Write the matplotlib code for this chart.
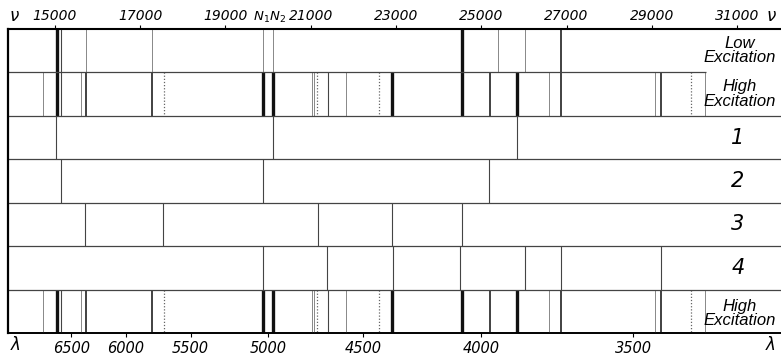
import matplotlib
matplotlib.use("Agg")
import matplotlib.pyplot as plt

# ---- data ----
nu_ticks = [15000, 17000, 19000, 21000, 23000, 25000, 27000, 29000, 31000]
lam_ticks = [6500, 6000, 5500, 5000, 4500, 4000, 3500]

# line positions (wavenumber, cm^-1) and line strength class (0 faint dotted .. 4 strong)
low_nu = [15040, 15140, 15730, 17280, 19880, 20120, 24550, 25400, 26030, 26860]
low_str = [4, 2, 1, 1, 1, 1, 4, 1, 1, 3]

high_nu = [14720, 15050, 15140, 15610, 15730, 17280, 17560, 19880, 20120, 21030,
           21080, 21150, 21400, 21820, 22590, 22910, 24540, 25200, 25850, 26580,
           26860, 29080, 29220, 29930, 30260]
high_str = [1, 4, 2, 1, 3, 3, 0, 4, 4, 1,
            1, 0, 2, 1, 0, 4, 4, 3, 4, 1,
            3, 1, 3, 0, 1]

series1 = [15030, 20120, 25850]
series2 = [15140, 19880, 25190]
series3 = [15710, 17540, 21170, 22910, 24550]
series4 = [19880, 21390, 22930, 24510, 26030, 26860, 29220]
series_labels = ["1", "2", "3", "4"]
nn_label_nu = 20000

# ---- layout ----
W, H = 781, 358
fig = plt.figure(figsize=(W / 100, H / 100), dpi=100)
x0_px, x1_px, ytop_px, ybot_px = 8, 781, 29, 333
ax = fig.add_axes([x0_px / W, 1 - ybot_px / H, (x1_px - x0_px) / W, (ybot_px - ytop_px) / H])

scale = 682 / 16000.0   # px per cm^-1
px15000 = 55
def px_to_nu(px):
    return 15000 + (px - px15000) / scale

ax.set_xlim(px_to_nu(x0_px), px_to_nu(x1_px))
ax.set_ylim(7, 0)

styles = {
    0: dict(color="#666666", lw=0.9, ls=(0, (1, 1.5))),
    1: dict(color="#888888", lw=0.7, ls="-"),
    2: dict(color="#444444", lw=0.8, ls="-"),
    3: dict(color="#333333", lw=1.3, ls="-"),
    4: dict(color="#111111", lw=2.4, ls="-"),
}

def draw_row(nus, strs, row):
    for n, s in zip(nus, strs):
        st = styles[s]
        ax.vlines(n, row, row + 1, colors=st["color"], linewidths=st["lw"], linestyles=st["ls"])

draw_row(low_nu, low_str, 0)
draw_row(high_nu, high_str, 1)
draw_row(high_nu, high_str, 6)
for i, ser in enumerate([series1, series2, series3, series4]):
    ax.vlines(ser, i + 2, i + 3, colors="#444444", linewidths=0.8)

# row separators
ax.hlines(1, px_to_nu(x0_px), px_to_nu(706), colors="#444444", linewidths=0.9)
ax.hlines([2, 3, 4, 5, 6], px_to_nu(x0_px), px_to_nu(x1_px), colors="#444444", linewidths=0.9)

ax.spines["right"].set_visible(False)
ax.spines["left"].set_linewidth(1.6)
ax.spines["top"].set_linewidth(1.5)
ax.spines["bottom"].set_linewidth(1.2)
ax.set_yticks([])

tfont = dict(family=["DejaVu Sans"], fontstyle="italic", fontsize=10)
ax.tick_params(axis="x", top=True, labeltop=True, bottom=False, labelbottom=False,
               direction="out", length=3, width=0.8, pad=1)
ax.set_xticks(nu_ticks, [str(t) for t in nu_ticks], **tfont)

sec = ax.secondary_xaxis("bottom")
sec.spines["bottom"].set_linewidth(1.2)
sec.tick_params(direction="out", length=3, width=0.8, pad=3)
sec.set_xticks([1e8 / l for l in lam_ticks], [str(l) for l in lam_ticks],
               family=["DejaVu Sans"], fontstyle="italic", fontsize=10.5)

# symbols
gfont = dict(family=["DejaVu Sans"], fontstyle="italic", fontsize=12)
fig.text(14 / W, 1 - 16 / H, "ν", ha="center", va="center", **gfont)
fig.text(771 / W, 1 - 16 / H, "ν", ha="center", va="center", **gfont)
fig.text(16 / W, 1 - 345 / H, "λ", ha="center", va="center", **gfont)
fig.text(771 / W, 1 - 345 / H, "λ", ha="center", va="center", **gfont)
ax.text(nn_label_nu + 40, -0.27, "N$_1$N$_2$", ha="center", va="center",
        fontsize=9.5, fontstyle="italic", family=["DejaVu Sans"], clip_on=False)

lfont = dict(family=["Liberation Sans", "DejaVu Sans"], fontstyle="italic", fontsize=12)
xl = px_to_nu(740)
ax.text(xl, 0.5, "Low\nExcitation", ha="center", va="center", linespacing=0.95, **lfont)
ax.text(xl, 1.5, "High\nExcitation", ha="center", va="center", linespacing=0.95, **lfont)
ax.text(xl, 6.55, "High\nExcitation", ha="center", va="center", linespacing=0.95, **lfont)
for i, lab in enumerate(series_labels):
    ax.text(px_to_nu(738), i + 2.5, lab, ha="center", va="center",
            family=["DejaVu Sans"], fontstyle="italic", fontsize=15)

fig.savefig("out.png", dpi=100)
